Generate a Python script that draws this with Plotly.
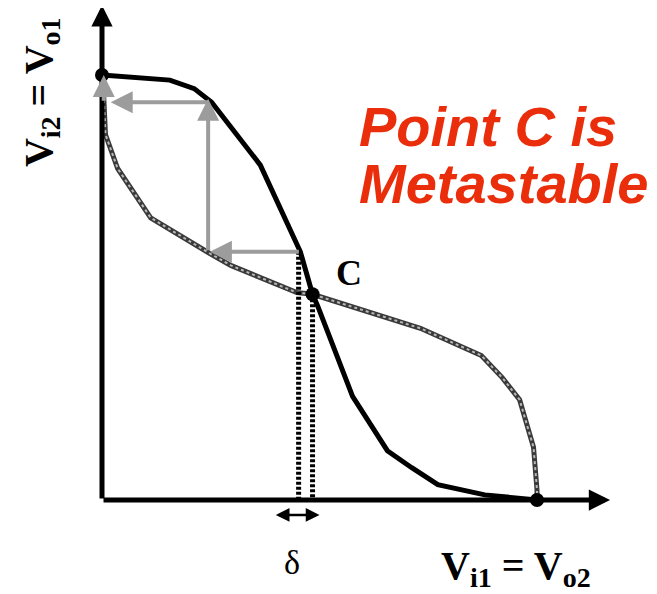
import plotly.graph_objects as go

# Inverter 1 VTC (black, solid): Vo1 vs Vi1 (volts, VDD = 2.5)
black_x = [0.00, 0.39, 0.53, 0.63, 0.91, 1.14, 1.21, 1.24, 1.44, 1.64, 1.78, 1.93, 2.20, 2.50]
black_y = [2.50, 2.47, 2.42, 2.34, 1.97, 1.46, 1.21, 1.14, 0.61, 0.29, 0.19, 0.09, 0.03, 0.00]

# Inverter 2 VTC (grey, hatched): Vi2 vs Vo2
gray_x = [2.50, 2.50, 2.48, 2.40, 2.30, 2.18, 1.83, 1.31, 1.21, 1.12, 0.74, 0.62, 0.28, 0.09, 0.02, 0.01, 0.00]
gray_y = [0.00, 0.06, 0.31, 0.59, 0.72, 0.85, 1.01, 1.18, 1.21, 1.22, 1.38, 1.45, 1.66, 1.95, 2.15, 2.37, 2.50]

# Operating points (stable ends and metastable C)
dot_x = [0.00, 1.21, 2.50]
dot_y = [2.50, 1.21, 0.00]

# Cobweb arrows: tail -> tip
cob_tail_x = [1.14, 0.61, 0.62, 0.01]
cob_tail_y = [1.46, 1.46, 2.34, 2.34]
cob_tip_x = [0.62, 0.61, 0.05, 0.01]
cob_tip_y = [1.46, 2.36, 2.34, 2.50]

# Axes arrows
axis_tip_x = [2.92, 0.00]
axis_tip_y = [0.00, 2.91]

# Offset (delta) dotted lines
delta_x = [1.13, 1.21]
delta_top = [1.46, 1.21]
delta_arrow = [0.99, 1.25, -0.088]

fig = go.Figure()

# grey curve: dark base + light checker texture
fig.add_trace(go.Scatter(x=gray_x, y=gray_y, mode="lines",
                         line=dict(color="#3a3a3a", width=5), hoverinfo="skip"))
fig.add_trace(go.Scatter(x=gray_x, y=gray_y, mode="lines",
                         line=dict(color="#b8b8b8", width=2, dash="dot"), hoverinfo="skip"))

# dotted verticals
for xv, top in zip(delta_x, delta_top):
    fig.add_trace(go.Scatter(x=[xv, xv], y=[top, 0], mode="lines",
                             line=dict(color="black", width=5, dash="3px,2px"), hoverinfo="skip"))

# black curve
fig.add_trace(go.Scatter(x=black_x, y=black_y, mode="lines",
                         line=dict(color="black", width=5), hoverinfo="skip"))

# dots
fig.add_trace(go.Scatter(x=dot_x, y=dot_y, mode="markers",
                         marker=dict(color="black", size=14), hoverinfo="skip"))

ann = []
# axis arrows
for tx, ty in zip(axis_tip_x, axis_tip_y):
    ann.append(dict(x=tx, y=ty, ax=0, ay=0, xref="x", yref="y", axref="x", ayref="y",
                    text="", showarrow=True, arrowhead=2, arrowsize=0.85, arrowwidth=5,
                    arrowcolor="black", standoff=0))
# cobweb arrows
for a, b, c, d in zip(cob_tail_x, cob_tail_y, cob_tip_x, cob_tip_y):
    ann.append(dict(x=c, y=d, ax=a, ay=b, xref="x", yref="y", axref="x", ayref="y",
                    text="", showarrow=True, arrowhead=2, arrowsize=1.1, arrowwidth=4,
                    arrowcolor="#9c9c9c", standoff=0))
# delta double arrow
ann.append(dict(x=delta_arrow[1], y=delta_arrow[2], ax=delta_arrow[0], ay=delta_arrow[2],
                xref="x", yref="y", axref="x", ayref="y", text="", showarrow=True,
                arrowhead=2, startarrowhead=2, arrowside="end+start", arrowsize=1.1,
                startarrowsize=1.1, arrowwidth=2.5, arrowcolor="black", standoff=0, startstandoff=0))

serif = "Liberation Serif, Times New Roman, serif"
ann.append(dict(x=1.09, y=-0.365, xref="x", yref="y", text="δ", showarrow=False,
                font=dict(family=serif, size=34, color="black")))
ann.append(dict(x=1.42, y=1.335, xref="x", yref="y", text="<b>C</b>", showarrow=False,
                font=dict(family=serif, size=36, color="black")))
ann.append(dict(x=2.38, y=-0.40, xref="x", yref="y",
                text="<b>V<sub>i1</sub> = V<sub>o2</sub></b>", showarrow=False,
                font=dict(family=serif, size=40, color="black")))
ann.append(dict(x=-0.35, y=2.40, xref="x", yref="y",
                text="<b>V<sub>i2</sub> = V<sub>o1</sub></b>", showarrow=False, textangle=-90,
                font=dict(family=serif, size=40, color="black")))

red = "#EA2E0C"
sans = "Liberation Sans, Arial, sans-serif"
ann.append(dict(x=1.466, y=2.20, xref="x", yref="y", text="<b><i>Point C is</i></b>", showarrow=False,
                xanchor="left", yanchor="middle", font=dict(family=sans, size=56, color=red)))
ann.append(dict(x=1.466, y=1.86, xref="x", yref="y", text="<b><i>Metastable</i></b>", showarrow=False,
                xanchor="left", yanchor="middle", font=dict(family=sans, size=56, color=red)))

# the page body has an 8px margin: figure pixel + 8 = page pixel
OFF = 8
W, H = 657 - OFF, 594 - OFF
fig.update_layout(
    width=W, height=H, autosize=False,
    margin=dict(l=0, r=0, t=0, b=0),
    paper_bgcolor="white", plot_bgcolor="white",
    showlegend=False,
    xaxis=dict(range=[(OFF - 102) / 174, (657 - 102) / 174], visible=False, fixedrange=True),
    yaxis=dict(range=[(500 - 594) / 170, (500 - OFF) / 170], visible=False, fixedrange=True),
    annotations=ann,
)

fig.write_html("out.html")
